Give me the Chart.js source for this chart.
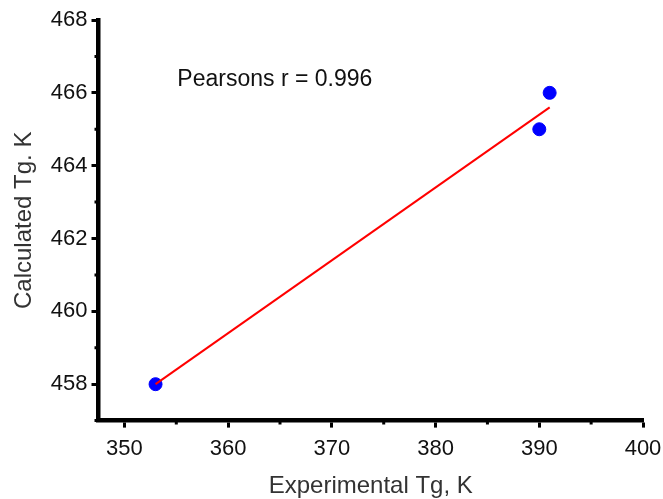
<!DOCTYPE html>
<html>
<head>
<meta charset="utf-8">
<script src="https://cdn.jsdelivr.net/npm/chart.js@4.4.0/dist/chart.umd.min.js"></script>
<style>
  html, body { margin: 0; padding: 0; background: #fff; }
  #wrap { width: 663px; height: 499px; }
</style>
</head>
<body>
<div id="wrap"><canvas id="chart"></canvas></div>
<script>
// measured points
const expTg = [353, 390, 391];
const calcTg = [458, 465, 466];

// fitted line, ends
const fitX = [353, 391];
const fitY = [458.0, 465.6];

const xTicks = [350, 360, 370, 380, 390, 400];
const yTicks = [458, 460, 462, 464, 466, 468];
const xMinor = [355, 365, 375, 385, 395];
const yMinor = [457, 459, 461, 463, 465, 467];

const noteText = 'Pearsons r = 0.996';
const noteAt = [355.1, 466.35];

const fontFam = 'Liberation Sans, Arial, sans-serif';

const minorTicks = {
  id: 'minorTicks',
  afterDraw(chart) {
    const ctx = chart.ctx;
    const xs = chart.scales.x, ys = chart.scales.y;
    ctx.save();
    ctx.strokeStyle = '#000';
    ctx.lineWidth = 3;
    ctx.beginPath();
    xMinor.forEach(v => {
      const px = xs.getPixelForValue(v);
      ctx.moveTo(px, xs.top);
      ctx.lineTo(px, xs.top + 4);
    });
    yMinor.forEach(v => {
      const py = ys.getPixelForValue(v);
      ctx.moveTo(ys.right, py);
      ctx.lineTo(ys.right - 4, py);
    });
    ctx.stroke();

    ctx.fillStyle = '#111';
    ctx.font = '23px ' + fontFam;
    ctx.textBaseline = 'middle';
    ctx.fillText(noteText, xs.getPixelForValue(noteAt[0]), ys.getPixelForValue(noteAt[1]));
    ctx.restore();
  }
};

const ctx = document.getElementById('chart');
new Chart(ctx, {
  type: 'scatter',
  data: {
    datasets: [
      {
        type: 'line',
        label: 'fit',
        data: fitX.map((x, i) => ({ x: x, y: fitY[i] })),
        borderColor: '#ff0000',
        borderWidth: 2,
        pointRadius: 0,
        fill: false,
        order: 1
      },
      {
        label: 'data',
        data: expTg.map((x, i) => ({ x: x, y: calcTg[i] })),
        backgroundColor: '#0000ff',
        borderColor: '#0000ff',
        pointRadius: 6.5,
        order: 2
      }
    ]
  },
  options: {
    responsive: true,
    maintainAspectRatio: false,
    animation: false,
    layout: { autoPadding: false, padding: { top: 20, right: 20, bottom: 1, left: 10 } },
    plugins: { legend: { display: false }, tooltip: { enabled: false } },
    scales: {
      x: {
        type: 'linear',
        min: 347.5,
        max: 400,
        afterBuildTicks: s => { s.ticks = xTicks.map(v => ({ value: v })); },
        afterFit: s => { s.paddingRight = 0; s.paddingLeft = 0; },
        border: { display: true, color: '#000', width: 4.5 },
        grid: { drawOnChartArea: false, color: '#000', tickLength: 7, tickWidth: 3 },
        ticks: { color: '#111', padding: 8, font: { size: 22, family: fontFam } },
        title: {
          display: true,
          text: 'Experimental Tg, K',
          color: '#333',
          padding: { top: 4, bottom: 0 },
          font: { size: 24, family: fontFam, lineHeight: 1 }
        }
      },
      y: {
        min: 457,
        max: 468,
        afterBuildTicks: s => { s.ticks = yTicks.map(v => ({ value: v })); },
        border: { display: true, color: '#000', width: 4.5 },
        grid: { drawOnChartArea: false, color: '#000', tickLength: 7, tickWidth: 3 },
        ticks: { color: '#111', padding: 4, font: { size: 22, family: fontFam } },
        title: {
          display: true,
          text: 'Calculated Tg. K',
          color: '#333',
          padding: { top: 0, bottom: 8 },
          font: { size: 24, family: fontFam }
        }
      }
    }
  },
  plugins: [minorTicks]
});
</script>
</body>
</html>
